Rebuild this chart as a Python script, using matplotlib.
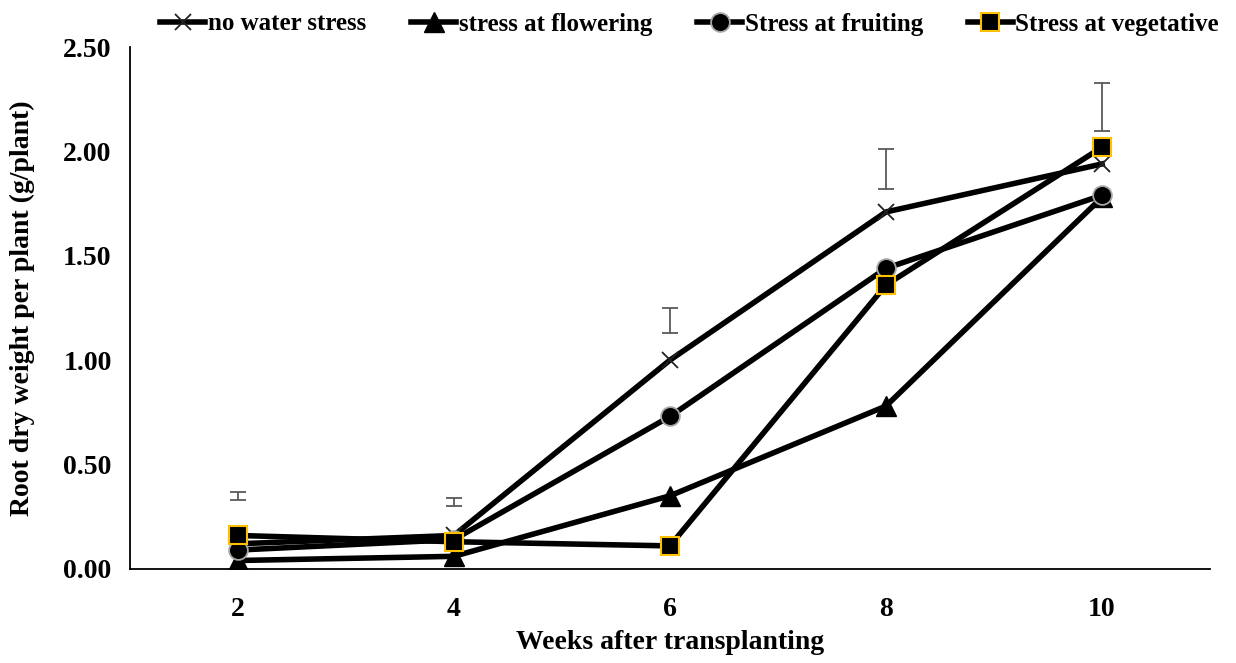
import matplotlib.pyplot as plt

weeks = ['2', '4', '6', '8', '10']

no_stress = [0.12, 0.16, 1.00, 1.71, 1.94]
flowering = [0.04, 0.06, 0.35, 0.78, 1.78]
fruiting = [0.09, 0.14, 0.73, 1.44, 1.79]
vegetative = [0.16, 0.13, 0.11, 1.36, 2.02]

# floating error bars (low / high ends) as drawn in the original
err_low = [0.33, 0.30, 1.13, 1.82, 2.10]
err_high = [0.37, 0.34, 1.25, 2.01, 2.33]

plt.rcParams['font.family'] = ['Liberation Serif', 'DejaVu Serif']
plt.rcParams['font.weight'] = 'bold'

fig = plt.figure(figsize=(12.36, 6.63), dpi=100)
ax = fig.add_axes([0.105, 0.142, 0.874, 0.787])

x = list(range(len(weeks)))
lw = 4.0

ax.plot(x, no_stress, color='black', lw=lw, marker='x', markersize=11,
        markeredgewidth=1.3, markeredgecolor='#222222', label='no water stress', zorder=3)
ax.plot(x, flowering, color='black', lw=lw, marker='^', markersize=14,
        markeredgecolor='black', label='stress at flowering', zorder=4)
ax.plot(x, fruiting, color='black', lw=lw, marker='o', markersize=13.5,
        markeredgecolor='#a6a6a6', markeredgewidth=1.3, label='Stress at fruiting', zorder=5)
ax.plot(x, vegetative, color='black', lw=lw, marker='s', markersize=13.5,
        markeredgecolor='#ffc000', markeredgewidth=1.5, label='Stress at vegetative', zorder=6)

centers = [(lo + hi) / 2 for lo, hi in zip(err_low, err_high)]
halves = [(hi - lo) / 2 for lo, hi in zip(err_low, err_high)]
ax.errorbar(x, centers, yerr=halves, fmt='none', ecolor='#595959',
            elinewidth=1.3, capsize=6, capthick=1.3, zorder=2)

ax.set_xlim(-0.5, len(weeks) - 0.5)
ax.set_ylim(0, 2.5)
ax.set_xticks(x)
ax.set_xticklabels(weeks)
ax.set_yticks([0, 0.5, 1.0, 1.5, 2.0, 2.5])
ax.set_yticklabels(['%.2f' % v for v in [0, 0.5, 1.0, 1.5, 2.0, 2.5]])
ax.tick_params(length=0, labelsize=20)
ax.tick_params(axis='y', pad=13)
ax.tick_params(axis='x', pad=20)

for s in ['top', 'right']:
    ax.spines[s].set_visible(False)
ax.spines['left'].set_linewidth(1.3)
ax.spines['bottom'].set_linewidth(1.3)

ax.set_xlabel('Weeks after transplanting', fontsize=20, fontweight='bold', va='top')
ax.xaxis.set_label_coords(0.5, -0.118)
ax.set_ylabel('Root dry weight per plant (g/plant)', fontsize=20, fontweight='bold')
ax.yaxis.set_label_coords(-0.088, 0.5)

fig.legend(loc='upper center', bbox_to_anchor=(0.558, 1.0), ncol=4, frameon=False,
           fontsize=18, handlelength=1.8, handletextpad=0.1, columnspacing=1.8,
           borderaxespad=0.1)

fig.savefig('out.png', dpi=100)
